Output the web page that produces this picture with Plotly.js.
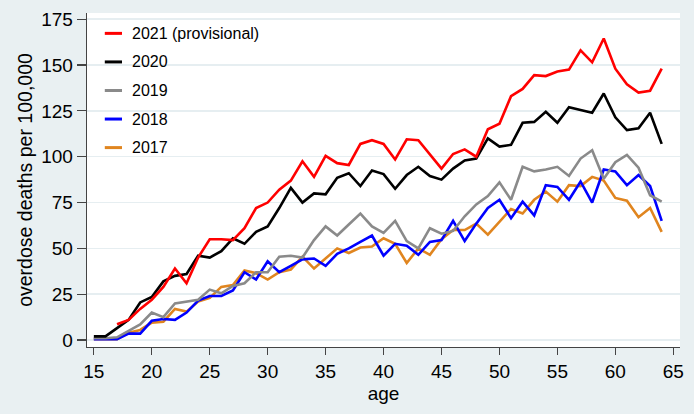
<!DOCTYPE html>
<html>
<head>
<meta charset="utf-8">
<script src="https://cdn.plot.ly/plotly-3.0.1.min.js"></script>
<style>html,body{margin:0;padding:0;background:#e9f0f2;}#chart{width:694px;height:414px;}</style>
</head>
<body>
<div id="chart"></div>
<script>
const ages = Array.from({length: 50}, (_, i) => 15 + i);

const y2021 = [null, null, 8.6, 11, 17, 22, 29, 39, 31, 45, 55, 55, 54.5, 61, 72, 75, 82, 87, 97.5, 89,
  100.5, 96.5, 95.5, 107, 109, 107, 98.5, 109.5, 109, 101, 93.5, 101.5, 104, 100, 115, 118, 133, 137, 144.5, 144,
  146.5, 147.5, 158, 151.5, 164.5, 148, 139.5, 135, 136, 148];
const y2020 = [2, 2, 6.5, 11, 20.5, 23.5, 32, 35, 36, 46, 45, 48.5, 55.5, 52.5, 59, 62, 72, 83, 75, 80,
  79.5, 88.5, 91, 84, 92.5, 90.5, 82.5, 90, 94.5, 89.5, 87.5, 93.5, 98, 99, 110, 105.5, 106.5, 118.5, 119, 124.5,
  118.5, 127, 125.5, 124, 134.5, 121.5, 114.5, 115.5, 124, 107];
const y2019 = [1, 1, 1.5, 5, 8.5, 15, 12.5, 20, 21, 22, 27.5, 25.5, 29.5, 31, 37, 37, 45.5, 46, 45, 54.5,
  62, 57, 63, 69, 62, 58.5, 65, 54, 50, 61, 58, 59.5, 67.5, 74, 78.5, 86, 76.5, 94.5, 92, 93,
  94.5, 89.5, 99, 103.5, 88, 97, 101, 94, 79, 75.5];
const y2018 = [0.5, 0.5, 0.5, 3.5, 3.5, 10.5, 11.5, 11, 15, 21.5, 24, 24, 27, 37, 33, 43, 37, 40.5, 44, 44.5,
  40.5, 47, 50, 53.5, 57, 46, 52.5, 51.5, 46.5, 53.5, 54.5, 65, 54, 63.5, 72, 76.5, 66.5, 75.5, 68, 84.5,
  83.5, 76.5, 86.5, 75, 93, 92, 84.5, 90, 84, 65];
const y2017 = [0.5, 0.5, 0.5, 4, 5.5, 9.5, 10, 17, 15.5, 21, 23, 29, 30, 38, 36.5, 33, 37, 38.5, 45.5, 39,
  44.5, 50, 47.5, 50.5, 51, 55.5, 52.5, 42, 50, 46.5, 55, 60, 60, 63.5, 57.5, 64.5, 71.5, 69, 76.5, 81,
  75.5, 84.5, 84, 89, 87, 77.5, 76, 67, 72, 59];

const seriesNames = ['2021 (provisional)', '2020', '2019', '2018', '2017'];
const seriesData = [y2021, y2020, y2019, y2018, y2017];
const seriesColors = ['#ff0000', '#000000', '#8a8a8a', '#0000ff', '#e0851f'];

const xTicks = [15, 20, 25, 30, 35, 40, 45, 50, 55, 60, 65];
const yTicks = [0, 25, 50, 75, 100, 125, 150, 175];

const traces = [];
for (let i = seriesData.length - 1; i >= 0; i--) {
  traces.push({
    x: ages, y: seriesData[i], type: 'scatter', mode: 'lines', name: seriesNames[i],
    line: {color: seriesColors[i], width: 2.6}, connectgaps: false, showlegend: false
  });
}

// manual legend
const shapes = [];
const annotations = [];
const legTop = 0.939, legStep = 0.0855;
seriesNames.forEach((n, i) => {
  const yy = legTop - i * legStep;
  shapes.push({type: 'line', xref: 'paper', yref: 'paper', x0: 0.030, x1: 0.059, y0: yy, y1: yy,
    line: {color: seriesColors[i], width: 3}});
  annotations.push({xref: 'paper', yref: 'paper', x: 0.073, y: yy, xanchor: 'left', yanchor: 'middle',
    text: n, showarrow: false, font: {size: 16, color: '#000'}});
});

const layout = {
  width: 694, height: 414,
  paper_bgcolor: '#e9f0f2', plot_bgcolor: '#ffffff',
  margin: {l: 87, r: 14, t: 13, b: 67},
  font: {family: 'Liberation Sans, Arial, sans-serif', color: '#000'},
  xaxis: {
    range: [14.41, 65.58], tickvals: xTicks, ticks: 'outside', ticklen: 7, tickwidth: 1.2, tickcolor: '#444',
    showline: true, linecolor: '#444', linewidth: 1.3, showgrid: false, zeroline: false,
    tickfont: {size: 19}, title: {text: 'age', font: {size: 19}, standoff: 5}
  },
  yaxis: {
    range: [-3.8, 178.4], tickvals: yTicks, ticks: 'outside', ticklen: 9, tickwidth: 1.2, tickcolor: '#444',
    showline: true, linecolor: '#444', linewidth: 1.3, showgrid: true, gridcolor: '#e6eef1', gridwidth: 1.5,
    zeroline: false, tickfont: {size: 19}, title: {text: 'overdose deaths per 100,000', font: {size: 19.5}, standoff: 3}
  },
  shapes: shapes, annotations: annotations, showlegend: false
};

Plotly.newPlot('chart', traces, layout, {displayModeBar: false, staticPlot: true});
</script>
</body>
</html>
